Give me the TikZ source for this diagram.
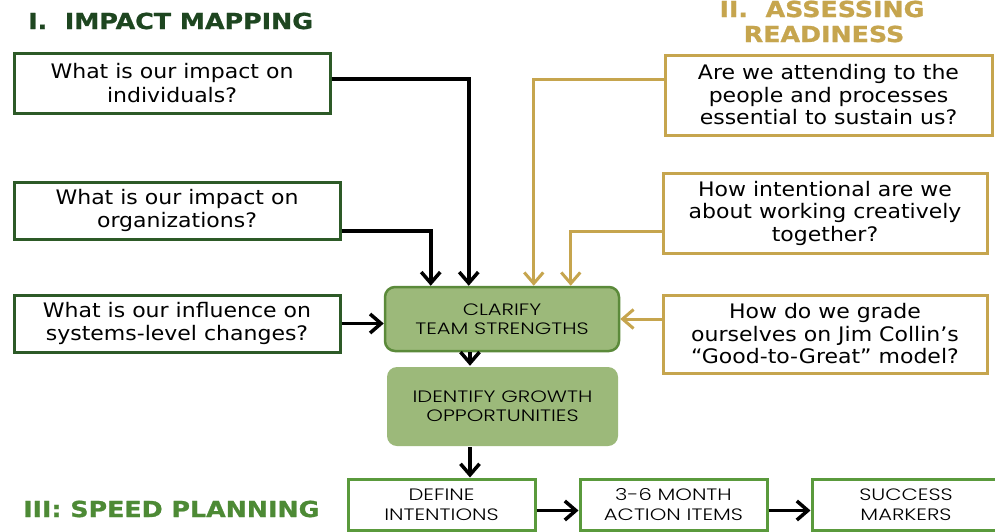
\documentclass[tikz,border=0pt]{standalone}
\usepackage{fontspec}
\setmainfont{DejaVu Sans}[FakeStretch=1.1]
\newfontfamily\titlefont{DejaVu Sans}[FakeStretch=1.15, FakeBold=1]
\newfontfamily\thinfont{Poppins Light}[FakeStretch=1.28]
\usetikzlibrary{arrows.meta,calc}
\definecolor{dkgreen}{HTML}{2D5A27}
\definecolor{titlegreen}{HTML}{1E4620}
\definecolor{gold}{HTML}{C6A54E}
\definecolor{boxfill}{HTML}{9CB97A}
\definecolor{boxedge}{HTML}{5B8A3A}
\definecolor{lowedge}{HTML}{5A9A3C}
\definecolor{lowtitle}{HTML}{4D8A35}
\tikzset{
  qbox/.style={draw=dkgreen, line width=3pt, fill=white, align=center, inner sep=0pt,
    font=\fontsize{20}{23.5}\selectfont},
  gbox/.style={draw=gold, line width=3pt, fill=white, align=center, inner sep=0pt,
    font=\fontsize{20}{22.5}\selectfont},
  stepbox/.style={draw=boxedge, line width=2.5pt, fill=boxfill, rounded corners=10pt, align=center,
    inner sep=0pt, font=\thinfont\fontsize{16.5}{19}\selectfont},
  lowbox/.style={draw=lowedge, line width=3pt, fill=white, align=center, inner sep=0pt,
    font=\thinfont\fontsize{16.5}{20}\selectfont},
  arr/.style={draw=black, line width=3.5pt, -{Straight Barb[length=11pt,width=19pt,line width=3.5pt]}},
  garr/.style={draw=gold, line width=3pt, -{Straight Barb[length=11pt,width=19pt,line width=3pt]}},
  ttl/.style={font=\titlefont\bfseries\fontsize{22}{26}\selectfont, inner sep=0pt}
}
\begin{document}
\begin{tikzpicture}[x=1pt,y=-1pt]
\useasboundingbox (0,0) rectangle (995,531);
\fill[white] (0,0) rectangle (995,531);
\begin{scope}
\clip (0,0) rectangle (995,531);

% titles
\node[ttl, text=titlegreen, anchor=base west] (t1) at (28,29) {I.\ \ IMPACT MAPPING};
\node[ttl, text=gold, anchor=base] (t2a) at (822,17) {II.\ \ ASSESSING};
\node[ttl, text=gold, anchor=base] (t2b) at (824,42) {READINESS};
\node[ttl, text=lowtitle, anchor=base west] (t3) at (23,517) {III: SPEED PLANNING};

% left question boxes
\node[qbox, minimum width=316pt, minimum height=60pt] (b1) at (172,83) {What is our impact on\\individuals?};
\node[qbox, minimum width=326pt, minimum height=57pt] (b2) at (177,210.5) {What is our impact on\\organizations?};
\node[qbox, minimum width=326pt, minimum height=57pt] (b3) at (177,323.5) {What is our influence on\\systems-level changes?};

% right question boxes
\node[gbox, minimum width=327pt, minimum height=80pt] (g1) at (828.5,95) {Are we attending to the\\people and processes\\essential to sustain us?};
\node[gbox, minimum width=324pt, minimum height=80pt] (g2) at (825,213) {How intentional are we\\about working creatively\\together?};
\node[gbox, minimum width=324pt, minimum height=78pt] (g3) at (825,334) {How do we grade\\ourselves on Jim Collin’s\\“Good-to-Great” model?};

% central boxes
\node[stepbox, minimum width=234pt, minimum height=64pt] (clarify) at (502,319) {CLARIFY\\TEAM STRENGTHS};
\node[stepbox, draw=none, minimum width=231pt, minimum height=79pt] (identify) at (502.5,406.5) {IDENTIFY GROWTH\\OPPORTUNITIES};

% bottom boxes
\node[lowbox, minimum width=187pt, minimum height=51pt] (define) at (441.5,504.5) {DEFINE\\INTENTIONS};
\node[lowbox, minimum width=187pt, minimum height=51pt] (action) at (673.5,504.5) {3-6 MONTH\\ACTION ITEMS};
\node[lowbox, minimum width=188pt, minimum height=51pt] (success) at (906,504.5) {SUCCESS\\MARKERS};

% coordinates on top of clarify
\coordinate (c1) at ($(clarify.north west)+(85,0)$);
\coordinate (c2) at ($(clarify.north west)+(47,0)$);
\coordinate (c3) at ($(clarify.north west)+(150,0)$);
\coordinate (c4) at ($(clarify.north west)+(187,0)$);

% black connectors
\draw[arr] ([yshift=4pt]b1.east) -| (c1);
\draw[arr] ([yshift=-20.5pt]b2.east) -| (c2);
\draw[arr] (b3.east) -- (b3.east -| clarify.west);

% gold connectors
\draw[garr] ([yshift=16pt]g1.west) -| (c3);
\draw[garr] ([yshift=-18pt]g2.west) -| (c4);
\draw[garr] (g3.west |- clarify.east) -- (clarify.east);

% vertical flow
\draw[arr] ([xshift=-32pt]clarify.south) -- ([xshift=-32pt]clarify.south |- identify.north);
\draw[arr] ([xshift=-32.5pt]identify.south) -- ([xshift=-32.5pt]identify.south |- define.north);

% bottom flow
\draw[arr] ([yshift=-6pt]define.east) -- ([yshift=-6pt]action.west);
\draw[arr] ([yshift=-6pt]action.east) -- ([yshift=-6pt]success.west);
\end{scope}
\end{tikzpicture}
\end{document}
